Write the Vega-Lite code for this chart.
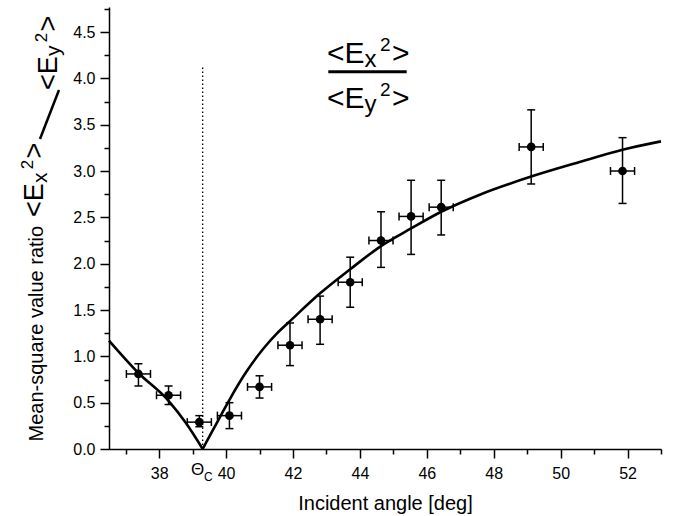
{
  "$schema": "https://vega.github.io/schema/vega-lite/v6.json",
  "width": 552,
  "height": 442,
  "autosize": {"type": "none"},
  "padding": {"left": 109, "top": 7, "right": 14, "bottom": 67},
  "background": "white",
  "config": {
    "view": {"stroke": null},
    "font": "Liberation Sans",
    "axis": {
      "grid": false,
      "domainColor": "black",
      "domainWidth": 1.5,
      "tickColor": "black",
      "tickWidth": 1.5,
      "labelColor": "black",
      "labelFont": "Liberation Sans",
      "labelFontSize": 16,
      "titleFont": "Liberation Sans",
      "titleFontSize": 20,
      "titleFontWeight": "normal",
      "titleColor": "black",
      "labelFlush": false,
      "labelOverlap": false
    }
  },
  "datasets": {
    "points": [
      {"x": 37.38, "y": 0.81, "ylo": 0.68, "yhi": 0.92, "xlo": 37.02, "xhi": 37.74},
      {"x": 38.28, "y": 0.58, "ylo": 0.48, "yhi": 0.68, "xlo": 37.92, "xhi": 38.64},
      {"x": 39.2, "y": 0.29, "ylo": 0.24, "yhi": 0.36, "xlo": 38.84, "xhi": 39.56},
      {"x": 40.1, "y": 0.36, "ylo": 0.22, "yhi": 0.5, "xlo": 39.74, "xhi": 40.46},
      {"x": 41.0, "y": 0.67, "ylo": 0.55, "yhi": 0.79, "xlo": 40.64, "xhi": 41.36},
      {"x": 41.91, "y": 1.12, "ylo": 0.9, "yhi": 1.36, "xlo": 41.55, "xhi": 42.27},
      {"x": 42.81, "y": 1.4, "ylo": 1.13, "yhi": 1.65, "xlo": 42.45, "xhi": 43.17},
      {"x": 43.71, "y": 1.8, "ylo": 1.53, "yhi": 2.07, "xlo": 43.35, "xhi": 44.07},
      {"x": 44.63, "y": 2.25, "ylo": 1.96, "yhi": 2.56, "xlo": 44.27, "xhi": 44.99},
      {"x": 45.53, "y": 2.51, "ylo": 2.1, "yhi": 2.9, "xlo": 45.17, "xhi": 45.89},
      {"x": 46.43, "y": 2.61, "ylo": 2.31, "yhi": 2.9, "xlo": 46.07, "xhi": 46.79},
      {"x": 49.12, "y": 3.26, "ylo": 2.86, "yhi": 3.66, "xlo": 48.76, "xhi": 49.48},
      {"x": 51.85, "y": 3.0, "ylo": 2.65, "yhi": 3.36, "xlo": 51.49, "xhi": 52.21}
    ],
    "curve": [
      {"b": "L", "x": 36.5, "y": 1.17},
      {"b": "L", "x": 37.38, "y": 0.82},
      {"b": "L", "x": 38.28, "y": 0.52},
      {"b": "L", "x": 38.8, "y": 0.28},
      {"b": "L", "x": 39.3, "y": 0.0},
      {"b": "R", "x": 39.3, "y": 0.0},
      {"b": "R", "x": 39.6, "y": 0.2},
      {"b": "R", "x": 39.9, "y": 0.4},
      {"b": "R", "x": 40.13, "y": 0.55},
      {"b": "R", "x": 40.6, "y": 0.83},
      {"b": "R", "x": 41.13, "y": 1.09},
      {"b": "R", "x": 41.5, "y": 1.24},
      {"b": "R", "x": 41.91, "y": 1.38},
      {"b": "R", "x": 42.81, "y": 1.68},
      {"b": "R", "x": 43.71, "y": 1.94},
      {"b": "R", "x": 44.63, "y": 2.19},
      {"b": "R", "x": 45.53, "y": 2.38},
      {"b": "R", "x": 46.43, "y": 2.56},
      {"b": "R", "x": 47.62, "y": 2.75},
      {"b": "R", "x": 49.12, "y": 2.94},
      {"b": "R", "x": 50.5, "y": 3.09},
      {"b": "R", "x": 51.85, "y": 3.23},
      {"b": "R", "x": 53.0, "y": 3.32}
    ],
    "critical": [{"x": 39.3, "y": 0, "y2": 4.12}],
    "fracBig": [
      {"t": "<E", "x": 43.016, "y": 4.162},
      {"t": ">", "x": 44.959, "y": 4.162},
      {"t": "<E", "x": 43.016, "y": 3.677},
      {"t": ">", "x": 44.959, "y": 3.677}
    ],
    "fracSub": [
      {"t": "x", "x": 44.14, "y": 4.126},
      {"t": "y", "x": 44.14, "y": 3.64}
    ],
    "fracSup": [
      {"t": "2", "x": 44.6, "y": 4.293},
      {"t": "2", "x": 44.6, "y": 3.805}
    ],
    "fracBar": [{"x": 43.055, "x2": 45.399, "y": 4.072}],
    "rotBig": [
      {"t": "<E", "x": 34.542, "y": 2.504},
      {"t": ">", "x": 34.542, "y": 3.135},
      {"t": "<E", "x": 34.946, "y": 3.874},
      {"t": ">", "x": 34.946, "y": 4.506}
    ],
    "rotSub": [
      {"t": "x", "x": 34.632, "y": 2.87},
      {"t": "y", "x": 35.035, "y": 4.24}
    ],
    "rotSup": [
      {"t": "2", "x": 34.228, "y": 3.02},
      {"t": "2", "x": 34.632, "y": 4.39}
    ],
    "rotSlash": [{"x": 34.437, "y": 3.346, "x2": 35.005, "y2": 3.874}],
    "thetaBig": [{"t": "Θ", "x": 38.951, "y": -0.281}],
    "thetaSmall": [{"t": "C", "x": 39.34, "y": -0.345}]
  },
  "layer": [
    {
      "layer": [
        {
          "data": {"name": "curve"},
          "mark": {"type": "line", "color": "black", "strokeWidth": 2.6, "interpolate": "monotone"},
          "encoding": {
            "x": {
              "field": "x", "type": "quantitative",
              "scale": {"domain": [36.5, 53], "nice": false, "zero": false},
              "axis": {
                "orient": "bottom",
                "values": [38, 40, 42, 44, 46, 48, 50, 52],
                "format": "d",
                "tickSize": 9,
                "labelPadding": 7,
                "title": "Incident angle [deg]",
                "titleBaseline": "alphabetic",
                "titleY": 60
              }
            },
            "y": {
              "field": "y", "type": "quantitative",
              "scale": {"domain": [0, 4.77], "nice": false, "zero": false},
              "axis": {
                "orient": "left",
                "values": [0, 0.5, 1, 1.5, 2, 2.5, 3, 3.5, 4, 4.5],
                "format": ".1f",
                "tickSize": 9,
                "labelPadding": 5,
                "title": "Mean-square value ratio",
                "titleAngle": 270,
                "titleAlign": "left",
                "titleBaseline": "alphabetic",
                "titleX": -67,
                "titleY": 434
              }
            },
            "detail": {"field": "b"}
          }
        },
        {
          "data": {"name": "critical"},
          "mark": {"type": "rule", "color": "black", "strokeWidth": 1.3, "strokeDash": [1.5, 2.5]},
          "encoding": {
            "x": {"field": "x", "type": "quantitative"},
            "y": {"field": "y", "type": "quantitative"},
            "y2": {"field": "y2"}
          }
        },
        {
          "data": {"name": "points"},
          "mark": {"type": "rule", "color": "black", "strokeWidth": 1.5},
          "encoding": {
            "x": {"field": "x", "type": "quantitative"},
            "y": {"field": "ylo", "type": "quantitative"},
            "y2": {"field": "yhi"}
          }
        },
        {
          "data": {"name": "points"},
          "mark": {"type": "rule", "color": "black", "strokeWidth": 1.5},
          "encoding": {
            "x": {"field": "xlo", "type": "quantitative"},
            "x2": {"field": "xhi"},
            "y": {"field": "y", "type": "quantitative"}
          }
        },
        {
          "data": {"name": "points"},
          "mark": {"type": "tick", "color": "black", "orient": "horizontal", "size": 8, "thickness": 1.5, "opacity": 1},
          "encoding": {
            "x": {"field": "x", "type": "quantitative"},
            "y": {"field": "ylo", "type": "quantitative"}
          }
        },
        {
          "data": {"name": "points"},
          "mark": {"type": "tick", "color": "black", "orient": "horizontal", "size": 8, "thickness": 1.5, "opacity": 1},
          "encoding": {
            "x": {"field": "x", "type": "quantitative"},
            "y": {"field": "yhi", "type": "quantitative"}
          }
        },
        {
          "data": {"name": "points"},
          "mark": {"type": "tick", "color": "black", "orient": "vertical", "size": 8, "thickness": 1.5, "opacity": 1},
          "encoding": {
            "x": {"field": "xlo", "type": "quantitative"},
            "y": {"field": "y", "type": "quantitative"}
          }
        },
        {
          "data": {"name": "points"},
          "mark": {"type": "tick", "color": "black", "orient": "vertical", "size": 8, "thickness": 1.5, "opacity": 1},
          "encoding": {
            "x": {"field": "xhi", "type": "quantitative"},
            "y": {"field": "y", "type": "quantitative"}
          }
        },
        {
          "data": {"name": "points"},
          "mark": {"type": "circle", "color": "black", "size": 75, "opacity": 1},
          "encoding": {
            "x": {"field": "x", "type": "quantitative"},
            "y": {"field": "y", "type": "quantitative"}
          }
        },
        {
          "data": {"name": "fracBar"},
          "mark": {"type": "rule", "color": "black", "strokeWidth": 3},
          "encoding": {
            "x": {"field": "x", "type": "quantitative"},
            "x2": {"field": "x2"},
            "y": {"field": "y", "type": "quantitative"}
          }
        },
        {
          "data": {"name": "fracBig"},
          "mark": {"type": "text", "align": "left", "baseline": "alphabetic", "fontSize": 30, "color": "black"},
          "encoding": {
            "x": {"field": "x", "type": "quantitative"},
            "y": {"field": "y", "type": "quantitative"},
            "text": {"field": "t"}
          }
        },
        {
          "data": {"name": "fracSub"},
          "mark": {"type": "text", "align": "left", "baseline": "alphabetic", "fontSize": 24, "color": "black"},
          "encoding": {
            "x": {"field": "x", "type": "quantitative"},
            "y": {"field": "y", "type": "quantitative"},
            "text": {"field": "t"}
          }
        },
        {
          "data": {"name": "fracSup"},
          "mark": {"type": "text", "align": "left", "baseline": "alphabetic", "fontSize": 19, "color": "black"},
          "encoding": {
            "x": {"field": "x", "type": "quantitative"},
            "y": {"field": "y", "type": "quantitative"},
            "text": {"field": "t"}
          }
        },
        {
          "data": {"name": "rotBig"},
          "mark": {"type": "text", "align": "left", "baseline": "alphabetic", "fontSize": 27, "angle": 270, "color": "black"},
          "encoding": {
            "x": {"field": "x", "type": "quantitative"},
            "y": {"field": "y", "type": "quantitative"},
            "text": {"field": "t"}
          }
        },
        {
          "data": {"name": "rotSub"},
          "mark": {"type": "text", "align": "left", "baseline": "alphabetic", "fontSize": 21, "angle": 270, "color": "black"},
          "encoding": {
            "x": {"field": "x", "type": "quantitative"},
            "y": {"field": "y", "type": "quantitative"},
            "text": {"field": "t"}
          }
        },
        {
          "data": {"name": "rotSup"},
          "mark": {"type": "text", "align": "left", "baseline": "alphabetic", "fontSize": 17, "angle": 270, "color": "black"},
          "encoding": {
            "x": {"field": "x", "type": "quantitative"},
            "y": {"field": "y", "type": "quantitative"},
            "text": {"field": "t"}
          }
        },
        {
          "data": {"name": "rotSlash"},
          "mark": {"type": "rule", "color": "black", "strokeWidth": 2.5},
          "encoding": {
            "x": {"field": "x", "type": "quantitative"},
            "y": {"field": "y", "type": "quantitative"},
            "x2": {"field": "x2"},
            "y2": {"field": "y2"}
          }
        },
        {
          "data": {"name": "thetaBig"},
          "mark": {"type": "text", "align": "left", "baseline": "alphabetic", "fontSize": 17, "color": "black"},
          "encoding": {
            "x": {"field": "x", "type": "quantitative"},
            "y": {"field": "y", "type": "quantitative"},
            "text": {"field": "t"}
          }
        },
        {
          "data": {"name": "thetaSmall"},
          "mark": {"type": "text", "align": "left", "baseline": "alphabetic", "fontSize": 12, "color": "black"},
          "encoding": {
            "x": {"field": "x", "type": "quantitative"},
            "y": {"field": "y", "type": "quantitative"},
            "text": {"field": "t"}
          }
        }
      ]
    },
    {
      "data": {"name": "curve"},
      "mark": {"type": "point", "opacity": 0},
      "encoding": {
        "x": {
          "field": "x", "type": "quantitative",
          "axis": {
            "orient": "bottom",
            "values": [37, 39, 41, 43, 45, 47, 49, 51, 53],
            "tickSize": 5,
            "labels": false,
            "domain": false,
            "title": null
          }
        },
        "y": {
          "field": "y", "type": "quantitative",
          "axis": {
            "orient": "left",
            "values": [0.25, 0.75, 1.25, 1.75, 2.25, 2.75, 3.25, 3.75, 4.25, 4.75],
            "tickSize": 5,
            "labels": false,
            "domain": false,
            "title": null
          }
        }
      }
    }
  ],
  "resolve": {"axis": {"x": "independent", "y": "independent"}}
}
